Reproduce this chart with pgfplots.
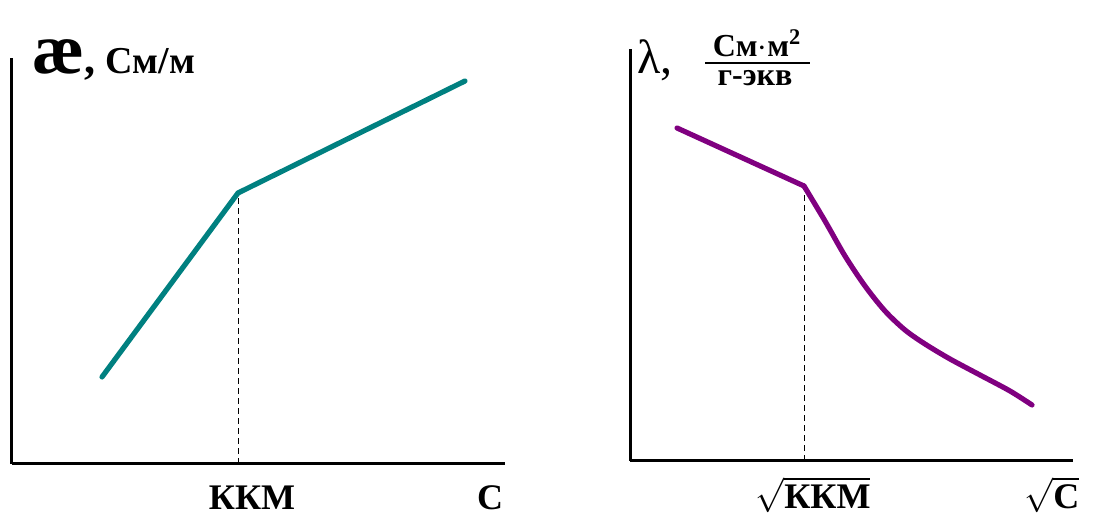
\documentclass[border=0pt]{standalone}
\usepackage{pgfplots}
\pgfplotsset{compat=1.18}
\usepackage{fontspec}
\setmainfont{Liberation Serif}
\definecolor{tealc}{RGB}{0,128,128}
\definecolor{purp}{RGB}{128,0,128}
\begin{document}
\begin{tikzpicture}
\useasboundingbox (0,0) rectangle (547pt,259pt);
\pgfplotsset{every axis/.append style={
  scale only axis, axis lines=left, axis line style={-, line width=1.5pt, black},
  xtick=\empty, ytick=\empty, clip=false, anchor=south west}}
% left
\begin{axis}[at={(6pt,27pt)}, width=246.5pt, height=203pt,
  xmin=0, xmax=493, ymin=0, ymax=406]
\addplot[black, line width=0.5pt, dash pattern=on 3pt off 2pt] coordinates {(226,0) (226,271)};
\addplot[tealc, line width=2.6pt, line cap=round, line join=round] coordinates {(90,87) (226,271) (453,383)};
\end{axis}
% right
\begin{axis}[at={(315pt,28.5pt)}, width=221.5pt, height=206pt,
  xmin=0, xmax=443, ymin=0, ymax=412]
\addplot[black, line width=0.5pt, dash pattern=on 3pt off 2pt] coordinates {(174,0) (174,275)};
\addplot[purp, line width=2.6pt, line cap=round, line join=round] coordinates {(47,333) (174,275)};
\addplot[purp, line width=2.6pt, line cap=round, smooth, tension=0.5] coordinates {(174,275) (195,240) (215,205) (235,175) (255,150) (275,131) (295,117) (320,102) (350,86) (380,70) (402,56)};
\end{axis}
% labels
\node[anchor=base west, inner sep=0pt] at (16pt,222pt) {\fontsize{36}{36}\selectfont\bfseries æ\fontsize{22}{22}\selectfont,\hspace{5pt}\fontsize{19}{19}\selectfont\bfseries См/м};
\node[anchor=base west, inner sep=0pt] at (318.5pt,222pt) {\fontsize{24}{24}\selectfont λ,};
\node[inner sep=0pt, anchor=base] at (378.5pt,230.5pt) {\fontsize{16}{16}\selectfont\bfseries См$\cdot$м$^{\mathbf{2}}$};
\draw[line width=1.3pt] (352.5pt,227.5pt) -- (405pt,227.5pt);
\node[inner sep=0pt, anchor=base] at (377.5pt,216pt) {\fontsize{16}{16}\selectfont\bfseries г-экв};
\node[inner sep=0pt] at (126pt,10.25pt) {\fontsize{18}{18}\selectfont\bfseries ККМ};
\node[inner sep=0pt] at (245pt,10.25pt) {\fontsize{18}{18}\selectfont\bfseries С};
\node[inner sep=0pt] at (406.5pt,11.5pt) {\fontsize{18}{18}\selectfont $\sqrt{\mbox{\fontsize{18}{18}\selectfont\bfseries ККМ}}$};
\node[inner sep=0pt] at (526pt,11.5pt) {\fontsize{18}{18}\selectfont $\sqrt{\mbox{\fontsize{18}{18}\selectfont\bfseries С}}$};
\end{tikzpicture}
\end{document}
